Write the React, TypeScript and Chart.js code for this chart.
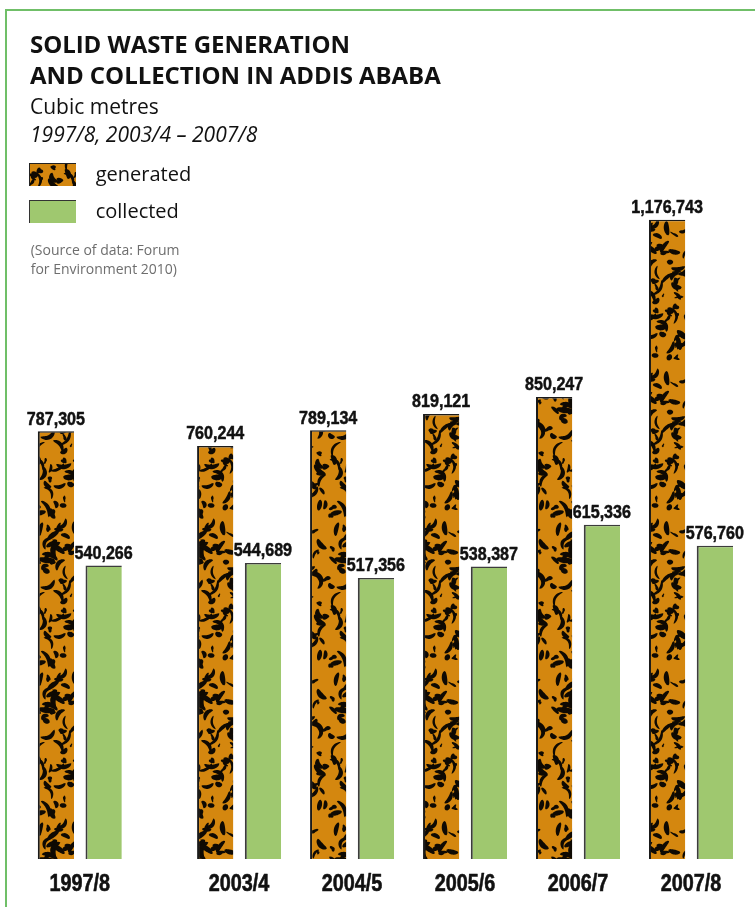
import React, { useEffect, useRef, useMemo } from 'react';
import { Chart, registerables } from 'chart.js';

Chart.register(...registerables);

// ---------- data ----------
const categories = ['1997/8', '2003/4', '2004/5', '2005/6', '2006/7', '2007/8'];
const generated = [787305, 760244, 789134, 819121, 850247, 1176743];
const collected = [540266, 544689, 517356, 538387, 615336, 576760];
const seriesNames = ['generated', 'collected'];

// ---------- layout / style constants ----------
const W = 755;
const H = 907;
const ORANGE = '#d4870f';
const GREEN = '#9fc86f';
const FRAME = '#70bf68';
const GAP_AFTER_FIRST = 1.41; // wider gap after the 1997/8 group
const X_MIN = -0.6;
const X_MAX = 5.95;
const Y_MAX = 1200000;
const LABEL_FONT = '"Liberation Sans", Arial, sans-serif';

const xPos = (i: number) => (i === 0 ? 0 : i - 1 + GAP_AFTER_FIRST);

function drawStroke(
  g: CanvasRenderingContext2D,
  cx: number,
  cy: number,
  ang: number,
  L: number,
  w: number,
  k: number
) {
  const N = 16;
  const left: [number, number][] = [];
  const right: [number, number][] = [];
  const ca = Math.cos(ang);
  const sa = Math.sin(ang);
  for (let i = 0; i <= N; i++) {
    const t = i / N;
    const sx = (t - 0.5) * L;
    const sy = k * ((t - 0.5) * (t - 0.5) * 4 - 1) * L * 0.3;
    const dx = L;
    const dy = k * 8 * (t - 0.5) * L * 0.3;
    const nl = Math.hypot(dx, dy) || 1;
    const nx = -dy / nl;
    const ny = dx / nl;
    const hw = (w / 2) * Math.pow(Math.sin(Math.PI * t), 0.5) + 0.15;
    const p1x = sx + nx * hw;
    const p1y = sy + ny * hw;
    const p2x = sx - nx * hw;
    const p2y = sy - ny * hw;
    left.push([cx + p1x * ca - p1y * sa, cy + p1x * sa + p1y * ca]);
    right.push([cx + p2x * ca - p2y * sa, cy + p2x * sa + p2y * ca]);
  }
  g.beginPath();
  g.moveTo(left[0][0], left[0][1]);
  for (const p of left) g.lineTo(p[0], p[1]);
  for (let i = right.length - 1; i >= 0; i--) g.lineTo(right[i][0], right[i][1]);
  g.closePath();
  g.fill();
}

function drawBlob(g: CanvasRenderingContext2D, cx: number, cy: number, ang: number, rx: number, ry: number, wob: number[]) {
  g.beginPath();
  const N = 18;
  for (let i = 0; i <= N; i++) {
    const a = (i / N) * Math.PI * 2;
    const r = 1 + 0.25 * Math.sin(a * 2 + wob[0]) + 0.18 * Math.sin(a * 3 + wob[1]);
    const px = Math.cos(a) * rx * r;
    const py = Math.sin(a) * ry * r;
    const x = cx + px * Math.cos(ang) - py * Math.sin(ang);
    const y = cy + px * Math.sin(ang) + py * Math.cos(ang);
    if (i === 0) g.moveTo(x, y);
    else g.lineTo(x, y);
  }
  g.closePath();
  g.fill();
}

function makePatternCanvas() {
  const TW = 74;
  const TH = 150;
  const cv = document.createElement('canvas');
  cv.width = TW;
  cv.height = TH;
  const g = cv.getContext('2d')!;
  g.fillStyle = ORANGE;
  g.fillRect(0, 0, TW, TH);
  let s = 424242;
  const rnd = () => {
    s = (Math.imul(s, 1664525) + 1013904223) >>> 0;
    return s / 4294967296;
  };
  g.fillStyle = '#0f0a03';
  const offs = [-1, 0, 1];
  for (let n = 0; n < 78; n++) {
    const cx = rnd() * TW;
    const cy = rnd() * TH;
    const ang = rnd() * Math.PI * 2;
    const L = 6 + rnd() * 12;
    const w = 2 + rnd() * 3.6;
    const k = (rnd() - 0.5) * 2.2;
    for (const ox of offs) for (const oy of offs) drawStroke(g, cx + ox * TW, cy + oy * TH, ang, L, w, k);
  }
  for (let n = 0; n < 30; n++) {
    const cx = rnd() * TW;
    const cy = rnd() * TH;
    const ang = rnd() * Math.PI * 2;
    const rx = 1.5 + rnd() * 3;
    const ry = 1 + rnd() * 1.8;
    const wob = [rnd() * 6, rnd() * 6];
    for (const ox of offs) for (const oy of offs) drawBlob(g, cx + ox * TW, cy + oy * TH, ang, rx, ry, wob);
  }
  return cv;
}

function condensedText(c: CanvasRenderingContext2D, text: string, x: number, y: number, sx: number) {
  c.save();
  c.translate(x, y);
  c.scale(sx, 1);
  c.strokeText(text, 0, 0);
  c.fillText(text, 0, 0);
  c.restore();
}

export default function App() {
  const canvasRef = useRef<HTMLCanvasElement | null>(null);
  const patternCanvas = useMemo(() => makePatternCanvas(), []);
  const patternUrl = useMemo(() => patternCanvas.toDataURL(), [patternCanvas]);

  useEffect(() => {
    const canvas = canvasRef.current;
    if (!canvas) return;
    const ctx = canvas.getContext('2d')!;
    const pattern = ctx.createPattern(patternCanvas, 'repeat')!;

    const labelsPlugin = {
      id: 'labelsPlugin',
      afterDatasetsDraw(chart: any) {
        const c = chart.ctx as CanvasRenderingContext2D;
        c.save();
        c.fillStyle = '#111';
        c.strokeStyle = '#111';
        c.lineWidth = 0.5;
        c.lineJoin = 'round';
        c.textAlign = 'center';
        c.textBaseline = 'alphabetic';
        // value labels above bars
        c.font = `bold 18.5px ${LABEL_FONT}`;
        chart.data.datasets.forEach((ds: any, di: number) => {
          const meta = chart.getDatasetMeta(di);
          meta.data.forEach((bar: any, i: number) => {
            const v = ds.data[i].y as number;
            condensedText(c, v.toLocaleString('en-US'), bar.x, bar.y - 6.7, 0.87);
          });
        });
        // category labels under each group, positioned by the x scale
        const xs = chart.scales.x;
        c.font = `bold 24.3px ${LABEL_FONT}`;
        c.lineWidth = 0.6;
        categories.forEach((cat, i) => {
          const px = xs.getPixelForValue(xPos(i));
          condensedText(c, cat, px, chart.chartArea.bottom + 31.7, 0.815);
        });
        c.restore();
      },
    };

    const chart = new Chart(canvas, {
      type: 'bar',
      data: {
        datasets: [
          {
            label: seriesNames[0],
            data: generated.map((v, i) => ({ x: xPos(i), y: v })),
            backgroundColor: pattern as any,
            borderColor: '#1a1a1a',
            borderWidth: { left: 2, top: 1.5, right: 0, bottom: 0 } as any,
          },
          {
            label: seriesNames[1],
            data: collected.map((v, i) => ({ x: xPos(i), y: v })),
            backgroundColor: GREEN,
            borderColor: '#3c3c3c',
            borderWidth: { left: 2, top: 1.5, right: 0, bottom: 0 } as any,
          },
        ],
      },
      options: {
        responsive: false,
        maintainAspectRatio: false,
        animation: false,
        layout: { padding: { left: 12, right: 3, top: 207, bottom: 0 } },
        datasets: { bar: { categoryPercentage: 0.845, barPercentage: 0.76 } } as any,
        plugins: {
          legend: { display: false },
          tooltip: { enabled: false },
          title: { display: false },
        },
        scales: {
          x: {
            type: 'linear',
            min: X_MIN,
            max: X_MAX,
            offset: false,
            grid: { display: false, drawTicks: false },
            border: { display: false },
            afterBuildTicks: (axis: any) => {
              axis.ticks = categories.map((_, i) => ({ value: xPos(i) }));
            },
            afterFit: (axis: any) => {
              axis.height = 48;
            },
            ticks: {
              display: false,
              autoSkip: false,
              maxRotation: 0,
              minRotation: 0,
              callback: (_v: any, index: number) => categories[index],
            },
          },
          y: { display: false, min: 0, max: Y_MAX },
        },
      },
      plugins: [labelsPlugin],
    });
    return () => chart.destroy();
  }, [patternCanvas]);

  const sans = '"Open Sans", "Noto Sans", sans-serif';
  const abs = (o: React.CSSProperties): React.CSSProperties => ({ position: 'absolute', whiteSpace: 'nowrap', ...o });

  return (
    <div style={{ position: 'fixed', left: 0, top: 0, width: W, height: H, overflow: 'hidden', background: '#fff' }}>
      <canvas ref={canvasRef} width={W} height={H} style={{ position: 'absolute', left: 0, top: 0 }} />
      <div
        style={{
          position: 'absolute',
          left: 5,
          top: 9,
          width: W,
          height: H,
          borderTop: `2.5px solid ${FRAME}`,
          borderLeft: `2.5px solid ${FRAME}`,
          pointerEvents: 'none',
        }}
      />
      <div style={abs({ left: 30, top: 32, fontFamily: sans, fontWeight: 700, fontSize: 24, lineHeight: '24px', color: '#111', letterSpacing: -0.05 })}>
        SOLID WASTE GENERATION
      </div>
      <div style={abs({ left: 30, top: 62.7, fontFamily: sans, fontWeight: 700, fontSize: 24, lineHeight: '24px', color: '#111', letterSpacing: -0.05 })}>
        AND COLLECTION IN ADDIS ABABA
      </div>
      <div style={abs({ left: 30, top: 96.4, fontFamily: sans, fontSize: 21, lineHeight: '21px', color: '#111' })}>
        Cubic metres
      </div>
      <div style={abs({ left: 30, top: 124.4, fontFamily: sans, fontStyle: 'italic', fontSize: 21, lineHeight: '21px', color: '#111' })}>
        1997/8, 2003/4 – 2007/8
      </div>
      <div
        style={abs({
          left: 29,
          top: 163,
          width: 47,
          height: 23,
          boxSizing: 'border-box',
          backgroundImage: `url(${patternUrl})`,
          borderTop: '1.5px solid #222',
          borderLeft: '1.5px solid #222',
        })}
      />
      <div style={abs({ left: 95.7, top: 164, fontFamily: sans, fontSize: 20, lineHeight: '20px', color: '#111' })}>
        {seriesNames[0]}
      </div>
      <div
        style={abs({
          left: 29,
          top: 199.5,
          width: 47,
          height: 23,
          boxSizing: 'border-box',
          background: GREEN,
          borderTop: '1.5px solid #333',
          borderLeft: '1.5px solid #333',
        })}
      />
      <div style={abs({ left: 95.7, top: 201.3, fontFamily: sans, fontSize: 20, lineHeight: '20px', color: '#111' })}>
        {seriesNames[1]}
      </div>
      <div style={abs({ left: 30.7, top: 240, fontFamily: sans, fontSize: 14, lineHeight: '19px', color: '#6e6e6e' })}>
        (Source of data: Forum
        <br />
        for Environment 2010)
      </div>
    </div>
  );
}
